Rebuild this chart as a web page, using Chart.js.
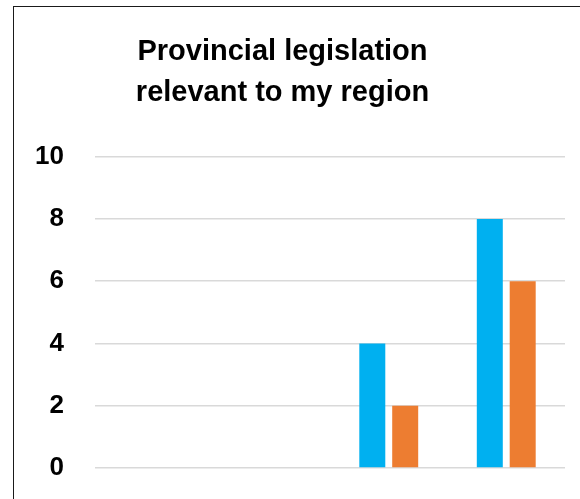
<!DOCTYPE html>
<html>
<head>
<meta charset="utf-8">
<script src="https://cdn.jsdelivr.net/npm/chart.js@4"></script>
<style>
  html, body { margin: 0; padding: 0; background: #fff; overflow: hidden; width: 580px; height: 499px; }
  #wrap { position: absolute; left: 0; top: 0; width: 580px; height: 499px; }
  #frame { position: absolute; left: 13px; top: 6px; width: 1000px; height: 1000px; border: 1.6px solid #1a1a1a; box-sizing: border-box; }
  canvas { position: absolute; left: 0; top: 0; }
</style>
</head>
<body>
<div id="frame"></div>
<div id="wrap"><canvas id="c" width="580" height="499"></canvas></div>
<script>
const titleLines = ['Provincial legislation', 'relevant to my region'];
const categories = ['Category 1', 'Category 2', 'Category 3', 'Category 4'];
const seriesNames = ['Series 1', 'Series 2'];
const blueValues = [0, 0, 4, 8];
const orangeValues = [0, 0, 2, 6];
const yTicks = [0, 2, 4, 6, 8, 10];

new Chart(document.getElementById('c'), {
  type: 'bar',
  data: {
    labels: categories,
    datasets: [
      { label: seriesNames[0], data: blueValues, backgroundColor: '#00B0F0', borderWidth: 0, categoryPercentage: 0.56, barPercentage: 0.79 },
      { label: seriesNames[1], data: orangeValues, backgroundColor: '#ED7D31', borderWidth: 0, categoryPercentage: 0.56, barPercentage: 0.79 }
    ]
  },
  options: {
    responsive: false,
    animation: false,
    devicePixelRatio: 1,
    layout: { padding: { left: 0, right: 15, top: 0, bottom: 31 } },
    plugins: {
      legend: { display: false },
      tooltip: { enabled: false },
      title: {
        display: true,
        text: titleLines,
        color: '#000',
        font: { family: "'Liberation Sans', Arial, sans-serif", size: 29, weight: 'bold', lineHeight: 1.41 },
        padding: { top: 32, bottom: 43 }
      }
    },
    scales: {
      x: { display: false },
      y: {
        min: 0, max: 10,
        afterFit: (s) => { s.width = 95; },
        afterBuildTicks: (s) => { s.ticks = yTicks.map(v => ({ value: v })); },
        border: { display: false },
        grid: { color: '#D9D9D9', lineWidth: 1.6, drawTicks: true, tickLength: 31, tickColor: 'rgba(0,0,0,0)' },
        ticks: {
          color: '#000',
          padding: 0,
          font: { family: "'Liberation Sans', Arial, sans-serif", size: 26, weight: 'bold' }
        }
      }
    }
  }
});
</script>
</body>
</html>
